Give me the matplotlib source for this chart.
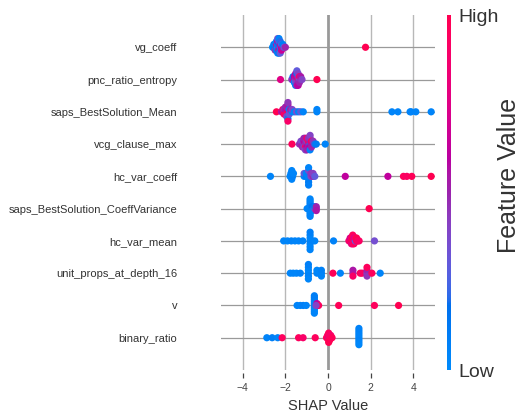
import numpy as np
import matplotlib
matplotlib.use("Agg")
import matplotlib.pyplot as plt
from matplotlib.colors import LinearSegmentedColormap
from matplotlib.cm import ScalarMappable

plt.rcParams['font.family'] = ['Liberation Sans', 'DejaVu Sans']

# ---------------- data ----------------
features = ["binary_ratio", "v", "unit_props_at_depth_16", "hc_var_mean",
            "saps_BestSolution_CoeffVariance", "hc_var_coeff", "vcg_clause_max",
            "saps_BestSolution_Mean", "pnc_ratio_entropy", "vg_coeff"]

shap_binary_ratio = [-2.87, -2.62, -2.36, -2.15, -1.38, -1.17, -0.60,
                     -0.07, -0.02, -0.02, 0.03, 0.03, 0.03, 0.03, 0.03,
                     0.08, 0.08, 0.08, 0.13, 0.13, 0.19,
                     1.45, 1.45, 1.45, 1.45, 1.45, 1.45, 1.45, 1.45]
fv_binary_ratio = [0.05, 0.08, 0.05, 0.95, 0.95, 0.9, 0.95,
                   0.95, 1.0, 0.9, 0.55, 1.0, 0.92, 0.95, 1.0,
                   0.95, 0.9, 1.0, 0.95, 0.9, 0.97,
                   0.05, 0.03, 0.06, 0.05, 0.04, 0.05, 0.03, 0.06]

shap_v = [-1.45, -1.30, -1.16, -1.02,
          -0.64, -0.64, -0.64, -0.64, -0.64, -0.64, -0.64, -0.64, -0.64, -0.64,
          -0.52, -0.52, -0.44, -0.56,
          0.50, 2.18, 3.31]
fv_v = [0.05, 0.05, 0.08, 0.05,
        0.05, 0.03, 0.06, 0.05, 0.04, 0.05, 0.03, 0.08, 0.05, 0.1,
        0.55, 0.6, 0.95, 0.4,
        0.97, 0.95, 1.0]

shap_unit_props = [-1.77, -1.63, -1.48, -1.30,
                   -0.92, -0.92, -0.92, -0.92, -0.92, -0.92,
                   -0.52, -0.52, -0.31, -0.31, -0.31,
                   0.23, 0.58,
                   1.17, 1.17, 1.17, 1.51, 1.60,
                   1.83, 1.83, 1.83, 1.83, 2.06, 2.45]
fv_unit_props = [0.05, 0.05, 0.04, 0.06,
                 0.05, 0.03, 0.06, 0.05, 0.04, 0.08,
                 0.05, 0.03, 0.05, 0.06, 0.04,
                 0.97, 0.05,
                 0.45, 0.55, 0.9, 0.95, 0.92,
                 0.4, 0.5, 0.45, 0.95, 0.95, 0.05]

shap_hc_var_mean = [-2.08, -1.90, -1.72, -1.55, -1.38, -1.18,
                    -0.84, -0.84, -0.84, -0.84, -0.84, -0.84, -0.84,
                    -0.62, 0.26,
                    0.98, 1.04, 1.04, 1.10, 1.10, 1.10, 1.16, 1.16, 1.16, 1.16,
                    1.22, 1.22, 1.22, 1.28, 1.28, 1.34, 1.34, 1.40, 1.46, 2.18]
fv_hc_var_mean = [0.05, 0.04, 0.06, 0.05, 0.05, 0.06,
                  0.05, 0.03, 0.06, 0.05, 0.04, 0.08, 0.05,
                  0.05, 0.06,
                  0.85, 0.95, 0.7, 1.0, 0.9, 0.8, 0.95, 1.0, 0.85, 0.95,
                  0.9, 0.75, 0.95, 0.3, 0.88, 0.95, 1.0, 0.9, 0.92, 0.35]

shap_saps_cv = [-0.98, -0.84, -0.84, -0.84, -0.84, -0.84, -0.84, -0.84, -0.84,
                -0.84, -0.84, -0.74, -0.74, -0.74,
                -0.62, -0.62, -0.55, -0.55, -0.55, 1.93]
fv_saps_cv = [0.05, 0.05, 0.03, 0.06, 0.05, 0.04, 0.08, 0.05, 0.05,
              0.06, 0.04, 0.1, 0.15, 0.05,
              0.4, 0.1, 0.45, 0.5, 0.55, 1.0]

shap_hc_var_coeff = [-2.70, -1.78, -1.74, -1.74, -1.70, -1.70, -1.66, -1.62,
                     -1.12, -1.12, -1.02, -1.02, -0.91, -0.91, -0.91, -0.91, -0.91, -0.91, -0.91,
                     -0.80, -0.80, -0.70, -0.70, -0.62,
                     0.81, 2.81, 3.54, 3.70, 3.93, 4.84]
fv_hc_var_coeff = [0.05, 0.05, 0.03, 0.06, 0.05, 0.04, 0.08, 0.05,
                   0.05, 0.3, 0.1, 0.05, 0.04, 0.06, 0.05, 0.35, 0.1, 0.05, 0.08,
                   0.4, 0.45, 0.5, 0.42, 0.3,
                   0.62, 0.62, 0.95, 0.92, 0.97, 1.0]

shap_vcg_clause_max = [-1.69, -1.34, -1.27, -1.27, -1.20, -1.20, -1.20,
                       -1.13, -1.13, -1.13, -1.13, -1.06, -1.06, -1.06, -1.06, -1.06,
                       -0.99, -0.99, -0.99, -0.99, -0.99, -0.92, -0.92, -0.92, -0.92,
                       -0.84, -0.84, -0.84, -0.84, -0.84, -0.84, -0.77, -0.77, -0.77,
                       -0.70, -0.70, -0.62, -0.55, -0.13]
fv_vcg_clause_max = [0.95, 0.45, 0.5, 0.4, 0.55, 0.35, 0.5,
                     0.45, 0.6, 0.4, 0.5, 0.45, 0.55, 0.95, 0.5, 0.4,
                     0.45, 0.4, 0.6, 0.9, 0.5, 0.5, 0.95, 0.55, 0.45,
                     0.05, 0.5, 0.6, 0.45, 0.05, 0.4, 0.55, 0.95, 0.5,
                     0.55, 0.45, 0.2, 0.1, 0.05]

shap_saps_mean = [-2.42, -2.18, -2.12, -2.12, -2.06, -2.06, -2.06, -2.00, -2.00, -2.00, -2.00,
                  -1.94, -1.94, -1.94, -1.94, -1.94, -1.88, -1.88, -1.88, -1.88,
                  -1.82, -1.82, -1.82, -1.76, -1.76, -1.68, -1.68, -1.58, -1.48, -1.38,
                  -1.28, -1.16, -0.52, -0.52, 3.00, 3.28, 3.85, 3.90, 4.12, 4.84]
fv_saps_mean = [1.0, 0.55, 0.6, 0.85, 0.5, 0.45, 0.95, 0.6, 0.55, 0.9, 0.5,
                0.5, 0.65, 0.95, 0.5, 0.4, 0.55, 0.1, 0.45, 0.9,
                0.6, 0.05, 0.3, 0.35, 0.5, 0.05, 0.4, 0.05, 0.35, 0.05,
                0.3, 0.05, 0.05, 0.05, 0.05, 0.05, 0.05, 0.05, 0.05, 0.05]

shap_pnc_ratio_entropy = [-2.23, -1.70, -1.64, -1.64, -1.58, -1.58, -1.58,
                          -1.52, -1.52, -1.52, -1.52, -1.52, -1.46, -1.46, -1.46, -1.46,
                          -1.46, -1.46, -1.40, -1.40, -1.40, -1.40, -1.40,
                          -1.34, -1.34, -1.34, -1.28, -1.28, -1.22, -0.52]
fv_pnc_ratio_entropy = [0.75, 0.4, 0.55, 0.1, 0.5, 0.6, 0.05,
                        0.45, 0.55, 0.35, 0.6, 0.05, 0.5, 0.65, 0.4, 0.1,
                        0.55, 0.3, 0.85, 0.45, 0.5, 0.4, 0.6,
                        0.3, 0.9, 0.5, 0.45, 0.55, 0.4, 1.0]

shap_vg_coeff = [-2.60, -2.54, -2.54, -2.48, -2.48, -2.48, -2.42, -2.42, -2.42, -2.42,
                 -2.36, -2.36, -2.36, -2.36, -2.36, -2.36, -2.30, -2.30, -2.30, -2.30,
                 -2.30, -2.30, -2.24, -2.24, -2.24, -2.24, -2.24, -2.18, -2.18, -2.18,
                 -2.12, -2.12, -2.06, -2.00, 1.76]
fv_vg_coeff = [0.05, 0.1, 0.08, 0.15, 0.05, 0.45, 0.12, 0.55, 0.1, 0.05,
               0.3, 0.05, 0.2, 0.6, 0.08, 0.35, 0.1, 0.15, 0.65, 0.25,
               0.12, 0.05, 0.4, 0.55, 0.08, 0.2, 0.3, 0.6, 0.25, 0.65,
               0.5, 0.1, 0.3, 0.5, 1.0]

rows_shap = [shap_binary_ratio, shap_v, shap_unit_props, shap_hc_var_mean, shap_saps_cv,
             shap_hc_var_coeff, shap_vcg_clause_max, shap_saps_mean,
             shap_pnc_ratio_entropy, shap_vg_coeff]
rows_fv = [fv_binary_ratio, fv_v, fv_unit_props, fv_hc_var_mean, fv_saps_cv,
           fv_hc_var_coeff, fv_vcg_clause_max, fv_saps_mean,
           fv_pnc_ratio_entropy, fv_vg_coeff]
x_ticks = [-4, -2, 0, 2, 4]

# ---------------- SHAP red-blue colormap (Lch interpolation) ----------------
def lch_to_rgb(l, c, h):
    a = c * np.cos(h); b = c * np.sin(h)
    fy = (l + 16) / 116.0; fx = fy + a / 500.0; fz = fy - b / 200.0
    def finv(t):
        return t ** 3 if t > 6 / 29 else 3 * (6 / 29) ** 2 * (t - 4 / 29)
    X = 0.95047 * finv(fx); Y = finv(fy); Z = 1.08883 * finv(fz)
    r = 3.2406 * X - 1.5372 * Y - 0.4986 * Z
    g = -0.9689 * X + 1.8758 * Y + 0.0415 * Z
    bb = 0.0557 * X - 0.2040 * Y + 1.0570 * Z
    out = []
    for v in (r, g, bb):
        v = 12.92 * v if v <= 0.0031308 else 1.055 * v ** (1 / 2.4) - 0.055
        out.append(min(max(v, 0), 1))
    return out

nsteps = 100
blue_lch = [54., 70., 4.6588]
red_lch = [54., 90., 0.35470565 + 2 * np.pi]
l_vals = list(np.linspace(blue_lch[0], 40., nsteps // 2)) + list(np.linspace(40., red_lch[0], nsteps // 2))
c_vals = np.linspace(blue_lch[1], red_lch[1], nsteps)
h_vals = np.linspace(blue_lch[2], red_lch[2], nsteps)
cols = [lch_to_rgb(l, c, h) for l, c, h in zip(l_vals, c_vals, h_vals)]
cmap = LinearSegmentedColormap.from_list("red_blue", cols)

# ---------------- figure ----------------
fig = plt.figure(figsize=(5.2, 4.15), dpi=100)
W, H = 520, 415
ax = fig.add_axes([221 / W, 1 - 370 / H, (435 - 221) / W, (370 - 15) / H])
ax.set_xlim(-5.02, 5.02)
ax.set_ylim(-1, 10)

for xt in x_ticks:
    if xt != 0:
        ax.axvline(xt, color="#b8b8b8", lw=1.0, zorder=0)
ax.axvline(0, color="#999999", lw=2.0, zorder=0)
for i in range(len(features)):
    ax.axhline(i, color="#9a9a9a", lw=0.9, zorder=0)

row_height = 0.4
for pos, (sv, fv) in enumerate(zip(rows_shap, rows_fv)):
    sv = np.asarray(sv, float); fv = np.asarray(fv, float)
    N = len(sv)
    nbins = 100
    quant = np.round(nbins * (sv - sv.min()) / (sv.max() - sv.min() + 1e-8))
    inds = np.argsort(quant, kind="stable")
    layer = 0; last_bin = -1
    ys = np.zeros(N)
    for ind in inds:
        if quant[ind] != last_bin:
            layer = 0
        ys[ind] = np.ceil(layer / 2) * ((layer % 2) * 2 - 1)
        layer += 1
        last_bin = quant[ind]
    ys *= 0.9 * (row_height / np.max(ys + 1))
    ax.scatter(sv, pos + ys, c=fv, cmap=cmap, vmin=0, vmax=1, s=27,
               linewidth=0, alpha=1, zorder=3)

for s in ax.spines.values():
    s.set_visible(False)
ax.spines['bottom'].set_position(('outward', 2))
ax.set_xticks(x_ticks)
ax.set_yticks(range(len(features)))
ax.set_yticklabels(features, fontsize=8, color="#333333")
ax.tick_params(axis='y', length=0, pad=31.5)
ax.tick_params(axis='x', direction='out', length=3.6, width=0.9, color="#444444",
               labelsize=7.5, labelcolor="#444444", pad=4)
ax.set_xlabel("SHAP Value", fontsize=10.5, color="#333333", labelpad=4)

cax = fig.add_axes([447 / W, 1 - 370 / H, 4 / W, (370 - 15) / H])
sm = ScalarMappable(cmap=cmap)
sm.set_clim(0, 1)
cb = fig.colorbar(sm, cax=cax, ticks=[0, 1])
cb.set_ticklabels(["Low", "High"])
cb.outline.set_visible(False)
cax.tick_params(length=0, labelsize=14, labelcolor="#333333", pad=5)
fig.text(509 / W, 1 - 175 / H, "Feature Value", rotation=90, fontsize=18,
         color="#333333", ha="center", va="center")

fig.savefig("out.png", dpi=100, facecolor="white")
